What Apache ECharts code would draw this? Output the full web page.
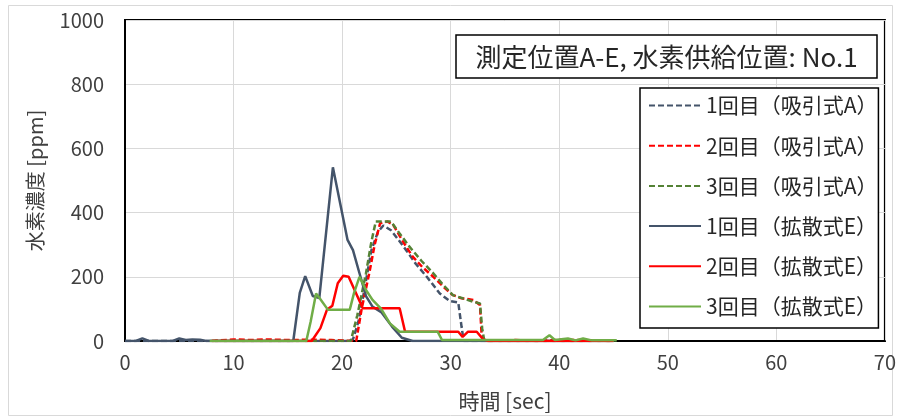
<!DOCTYPE html>
<html>
<head>
<meta charset="utf-8">
<script src="https://cdn.jsdelivr.net/npm/echarts@6/dist/echarts.min.js"></script>
<style>
  html, body { margin: 0; padding: 0; background: #fff; }
  #chart { width: 899px; height: 419px; }
</style>
</head>
<body>
<div id="chart"></div>
<script>
// Hydrogen concentration over time, suction-type (A) vs diffusion-type (E) sensors
const xTicks = [0, 10, 20, 30, 40, 50, 60, 70];
const yTicks = [0, 200, 400, 600, 800, 1000];

const seriesNames = [
  '1回目（吸引式A）', '2回目（吸引式A）', '3回目（吸引式A）',
  '1回目（拡散式E）', '2回目（拡散式E）', '3回目（拡散式E）'
];

// Run 1, suction type A
const tA1 = [0, 5, 10, 15, 20.5, 21, 21.5, 22, 22.7, 23.3, 23.8, 24.5, 25.2, 25.9, 26.8, 27.8, 29, 29.9, 30.7, 31.0, 31.2, 35, 40, 45];
const vA1 = [0, 0, 0, 0, 0, 5, 60, 150, 283, 340, 360, 345, 315, 283, 240, 200, 148, 125, 120, 45, 0, 0, 0, 0];

// Run 2, suction type A
const tA2 = [8, 10, 11.5, 13, 15, 17, 19, 21.3, 21.8, 22.5, 23.0, 23.5, 24.2, 24.7, 25.6, 26.5, 27.4, 28.4, 29.3, 30.2, 31, 32.1, 32.7, 32.85, 33.1, 36, 38, 40, 42, 45];
const vA2 = [0, 5, 3, 5, 3, 4, 3, 0, 100, 211, 300, 367, 372, 362, 310, 263, 230, 200, 170, 143, 133, 128, 112, 20, 0, 3, 0, 4, 3, 0];

// Run 3, suction type A
const tA3 = [8, 12, 16, 20.8, 21.4, 22.2, 22.7, 23.1, 24.5, 25.3, 26.2, 27.3, 28.4, 29.3, 30.2, 31.1, 32.1, 32.7, 32.9, 33.1, 40, 45];
const vA3 = [0, 0, 0, 0, 80, 211, 310, 372, 372, 335, 294, 250, 211, 175, 143, 133, 122, 117, 40, 0, 0, 0];

// Run 1, diffusion type E
const tE1 = [0, 1, 1.6, 2.2, 4.4, 5.0, 5.6, 6.2, 6.9, 7.5, 10, 15.5, 16.1, 16.6, 17.3, 17.9, 19.15, 20.5, 21.0, 21.6, 22.2, 22.8, 23.6, 24.6, 25.5, 26.5, 30, 45];
const vE1 = [0, 0, 8, 0, 0, 8, 3, 5, 4, 0, 0, 0, 150, 202, 140, 134, 541, 315, 283, 211, 140, 107, 90, 45, 10, 0, 0, 0];

// Run 2, diffusion type E
const tE2 = [8, 17.2, 18.0, 18.6, 19.1, 19.6, 20.1, 20.6, 21.2, 21.9, 25.3, 25.8, 30.7, 31.1, 31.6, 32.4, 33.0, 33.5, 45];
const vE2 = [0, 0, 40, 97, 110, 180, 203, 200, 155, 102, 102, 29, 29, 13, 29, 29, 5, 0, 0];

// Run 3, diffusion type E
const tE3 = [7.8, 16.7, 17.1, 17.6, 18.0, 18.7, 20.7, 21.1, 21.6, 22.2, 22.8, 23.6, 24.4, 25.3, 28.8, 29.2, 38.5, 39.1, 39.6, 40.8, 41.5, 42.2, 43, 45.3];
const vE3 = [0, 0, 60, 148, 130, 97, 97, 150, 200, 159, 128, 100, 55, 29, 29, 3, 3, 18, 3, 8, 2, 8, 2, 2];

const zip = (t, v) => t.map((x, i) => [x, v[i]]);

const lineColors = ['#44546A', '#FF0000', '#548235', '#44546A', '#FF0000', '#70AD47'];
const lineTypes = ['dashed', 'dashed', 'dashed', 'solid', 'solid', 'solid'];
const seriesData = [zip(tA1, vA1), zip(tA2, vA2), zip(tA3, vA3), zip(tE1, vE1), zip(tE2, vE2), zip(tE3, vE3)];

const FONT = "'Noto Sans CJK JP', 'Noto Sans', sans-serif";

const chart = echarts.init(document.getElementById('chart'), null, { renderer: 'canvas' });

chart.setOption({
  backgroundColor: '#fff',
  animation: false,
  textStyle: { fontFamily: FONT },
  grid: {
    left: 125, right: 14, top: 20, bottom: 78,
    show: true, borderColor: '#000', borderWidth: 2, backgroundColor: 'transparent'
  },
  xAxis: {
    type: 'value',
    min: xTicks[0], max: xTicks[xTicks.length - 1], interval: 10,
    name: '時間 [sec]',
    nameLocation: 'middle', nameGap: 50,
    nameTextStyle: { fontSize: 21, color: '#404040', fontFamily: FONT },
    axisLine: { lineStyle: { color: '#000', width: 2 } },
    axisTick: { show: false },
    axisLabel: { fontSize: 20, color: '#404040', margin: 11, fontFamily: FONT, formatter: v => String(v) },
    splitLine: { show: true, lineStyle: { color: '#D9D9D9', width: 1 } }
  },
  yAxis: {
    type: 'value',
    min: yTicks[0], max: yTicks[yTicks.length - 1], interval: 200,
    name: '水素濃度 [ppm]',
    nameLocation: 'middle', nameGap: 80, nameRotate: 90,
    nameTextStyle: { fontSize: 20, color: '#404040', fontFamily: FONT },
    axisLine: { show: true, lineStyle: { color: '#000', width: 2 } },
    axisTick: { show: false },
    axisLabel: { fontSize: 20, color: '#404040', margin: 21, fontFamily: FONT, formatter: v => String(v) },
    splitLine: { show: true, lineStyle: { color: '#D9D9D9', width: 1 } }
  },
  legend: {
    orient: 'vertical',
    left: 640, top: 88,
    padding: [7, 1, 11, 8],
    itemWidth: 52, itemHeight: 20, itemGap: 19.2,
    backgroundColor: '#fff',
    borderColor: '#000', borderWidth: 1.5, borderRadius: 0,
    itemStyle: { opacity: 0 },
    textStyle: { fontSize: 21, color: '#262626', fontFamily: FONT, lineHeight: 20 },
    data: seriesNames
  },
  graphic: [
    {
      type: 'rect', z: -10, silent: true,
      shape: { x: 8.5, y: 5.5, width: 884, height: 410 },
      style: { fill: 'none', stroke: '#D9D9D9', lineWidth: 1 }
    },
    {
      type: 'rect', z: 100, silent: true,
      shape: { x: 456, y: 35, width: 421, height: 43 },
      style: { fill: '#fff', stroke: '#000', lineWidth: 1.5 }
    },
    {
      type: 'text', z: 101, silent: true,
      x: 666.5, y: 57,
      style: {
        text: '測定位置A-E, 水素供給位置: No.1',
        fontSize: 26, fontFamily: FONT, fill: '#262626',
        align: 'center', verticalAlign: 'middle'
      }
    }
  ],
  series: seriesNames.map((name, i) => ({
    name: name,
    type: 'line',
    data: seriesData[i],
    symbol: 'none',
    smooth: false,
    clip: true,
    lineStyle: {
      color: lineColors[i], width: 2.5, type: lineTypes[i] === 'dashed' ? [6, 3] : 'solid'
    },
    itemStyle: { color: lineColors[i] },
    z: 2 + i
  }))
});
</script>
</body>
</html>
